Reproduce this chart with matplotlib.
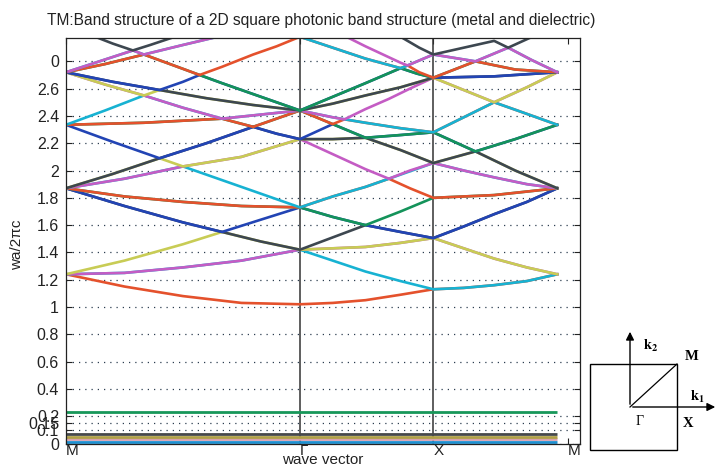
import matplotlib.pyplot as plt
from matplotlib.patches import Rectangle

plt.rcParams['font.family'] = ['Liberation Sans', 'DejaVu Sans']
plt.rcParams['mathtext.fontset'] = 'stix'

# colours (scanned MATLAB colour order)
red = '#e4512c'
cyan = '#17b2d2'
magenta = '#c45cc4'
yellow = '#c8cc55'
gray = '#3d4750'
blue = '#2244b4'
green = '#14935a'
color_order = [blue, green, red, cyan, magenta, yellow, gray]

# path: M (0) -> Gamma (1) -> X (1.57) -> M (2.1)
xtick_vals = [0, 1.0, 1.57, 2.145]
xtick_labels = ['M', 'Γ', 'X', 'M']
ytick_vals = [0, 0.1, 0.15, 0.2, 0.4, 0.6, 0.8, 1, 1.2, 1.4, 1.6, 1.8, 2, 2.2, 2.4, 2.6, 2.8]
ytick_labels = ['0', '0.1', '0.15', '0.2', '0.4', '0.6', '0.8', '1', '1.2', '1.4', '1.6',
                '1.8', '2', '2.2', '2.4', '2.6', '0']

# sorted bands (wa/2pi c) read along the path
b01_k = [0, 0.25, 0.5, 0.75, 1.0, 1.14, 1.28, 1.43, 1.57, 1.70, 1.83, 1.97, 2.10]
b01_w = [1.24, 1.15, 1.08, 1.03, 1.02, 1.03, 1.05, 1.09, 1.13, 1.14, 1.16, 1.19, 1.24]
b02_k = [0, 0.25, 0.5, 0.75, 1.0, 1.14, 1.28, 1.43, 1.57, 1.70, 1.83, 1.97, 2.10]
b02_w = [1.24, 1.25, 1.29, 1.34, 1.42, 1.34, 1.26, 1.19, 1.13, 1.14, 1.16, 1.19, 1.24]
b03_k = [0, 0.25, 0.5, 0.75, 1.0, 1.14, 1.28, 1.43, 1.57, 1.70, 1.83, 1.97, 2.10]
b03_w = [1.24, 1.25, 1.29, 1.34, 1.42, 1.43, 1.44, 1.47, 1.505, 1.43, 1.355, 1.29, 1.24]
b04_k = [0, 0.25, 0.5, 0.667, 0.833, 1.0, 1.14, 1.28, 1.43, 1.57, 1.70, 1.83, 1.97, 2.10]
b04_w = [1.24, 1.34, 1.46, 1.55, 1.48, 1.42, 1.43, 1.44, 1.47, 1.505, 1.43, 1.355, 1.29, 1.24]
b05_k = [0, 0.25, 0.5, 0.667, 0.833, 1.0, 1.14, 1.28, 1.43, 1.57, 1.70, 1.83, 1.97, 2.10]
b05_w = [1.87, 1.74, 1.62, 1.55, 1.48, 1.42, 1.51, 1.60, 1.55, 1.505, 1.59, 1.68, 1.77, 1.87]
b06_k = [0, 0.25, 0.5, 0.667, 0.833, 1.0, 1.14, 1.28, 1.43, 1.57, 1.70, 1.83, 1.97, 2.10]
b06_w = [1.87, 1.74, 1.62, 1.55, 1.64, 1.73, 1.66, 1.60, 1.55, 1.505, 1.59, 1.68, 1.77, 1.87]
b07_k = [0, 0.25, 0.5, 0.75, 1.0, 1.14, 1.28, 1.43, 1.57, 1.83, 2.10]
b07_w = [1.87, 1.81, 1.77, 1.74, 1.73, 1.66, 1.60, 1.70, 1.80, 1.82, 1.87]
b08_k = [0, 0.25, 0.5, 0.75, 1.0, 1.14, 1.28, 1.38, 1.47, 1.57, 1.83, 2.10]
b08_w = [1.87, 1.81, 1.77, 1.74, 1.73, 1.81, 1.88, 1.94, 1.87, 1.80, 1.82, 1.87]
b09_k = [0, 0.25, 0.5, 0.75, 1.0, 1.14, 1.28, 1.43, 1.57, 1.70, 1.83, 1.97, 2.10]
b09_w = [1.87, 1.94, 2.03, 1.88, 1.73, 1.81, 1.88, 1.97, 2.055, 2.00, 1.95, 1.90, 1.87]
b10_k = [0, 0.25, 0.5, 0.75, 1.0, 1.14, 1.28, 1.38, 1.47, 1.57, 1.70, 1.83, 1.97, 2.10]
b10_w = [1.87, 1.94, 2.03, 2.10, 2.23, 2.12, 2.01, 1.94, 2.00, 2.055, 2.00, 1.95, 1.90, 1.87]
b11_k = [0, 0.2, 0.4, 0.5, 0.75, 1.0, 1.14, 1.28, 1.43, 1.57, 1.75, 1.92, 2.10]
b11_w = [1.87, 1.975, 2.09, 2.03, 2.10, 2.23, 2.23, 2.24, 2.15, 2.055, 2.14, 2.00, 1.87]
b12_k = [0, 0.2, 0.4, 0.6, 0.8, 0.9, 1.0, 1.14, 1.28, 1.43, 1.57, 1.75, 1.92, 2.10]
b12_w = [1.87, 1.975, 2.09, 2.20, 2.32, 2.27, 2.23, 2.23, 2.24, 2.15, 2.055, 2.14, 2.00, 1.87]
b13_k = [0, 0.2, 0.4, 0.6, 0.8, 0.9, 1.0, 1.14, 1.28, 1.43, 1.57, 1.75, 1.92, 2.10]
b13_w = [2.335, 2.21, 2.09, 2.20, 2.32, 2.27, 2.23, 2.34, 2.24, 2.26, 2.28, 2.14, 2.23, 2.335]
b14_k = [0, 0.333, 0.667, 0.8, 0.9, 1.0, 1.14, 1.28, 1.43, 1.57, 1.75, 1.92, 2.10]
b14_w = [2.335, 2.35, 2.38, 2.32, 2.38, 2.44, 2.34, 2.24, 2.26, 2.28, 2.14, 2.23, 2.335]
b15_k = [0, 0.333, 0.667, 0.8, 0.9, 1.0, 1.14, 1.19, 1.28, 1.43, 1.57, 1.70, 1.83, 1.97, 2.10]
b15_w = [2.335, 2.35, 2.38, 2.32, 2.38, 2.44, 2.34, 2.375, 2.35, 2.31, 2.28, 2.39, 2.50, 2.415, 2.335]
b16_k = [0, 0.167, 0.333, 0.5, 0.667, 0.833, 1.0, 1.14, 1.28, 1.43, 1.57, 1.70, 1.83, 1.97, 2.10]
b16_w = [2.335, 2.44, 2.55, 2.46, 2.38, 2.41, 2.44, 2.39, 2.35, 2.31, 2.28, 2.39, 2.50, 2.415, 2.335]
b17_k = [0, 0.167, 0.333, 0.5, 0.667, 0.833, 1.0, 1.14, 1.19, 1.28, 1.38, 1.47, 1.57, 1.70, 1.83, 1.97, 2.10]
b17_w = [2.72, 2.63, 2.55, 2.46, 2.38, 2.41, 2.44, 2.39, 2.375, 2.45, 2.525, 2.60, 2.68, 2.59, 2.50, 2.61, 2.72]
b18_k = [0, 0.167, 0.333, 0.4, 0.6, 0.8, 1.0, 1.14, 1.28, 1.43, 1.57, 1.70, 1.83, 1.97, 2.10]
b18_w = [2.72, 2.63, 2.55, 2.59, 2.53, 2.48, 2.44, 2.49, 2.55, 2.61, 2.68, 2.59, 2.50, 2.61, 2.72]
b19_k = [0, 0.2, 0.4, 0.6, 0.8, 1.0, 1.14, 1.28, 1.43, 1.57, 1.83, 2.10]
b19_w = [2.72, 2.65, 2.59, 2.53, 2.48, 2.44, 2.49, 2.55, 2.61, 2.68, 2.69, 2.72]
b20_k = [0, 0.2, 0.4, 0.5, 0.571, 0.667, 0.8, 1.0, 1.14, 1.28, 1.43, 1.50, 1.57, 1.83, 2.10]
b20_w = [2.72, 2.65, 2.59, 2.65, 2.70, 2.64, 2.56, 2.44, 2.54, 2.64, 2.75, 2.71, 2.68, 2.69, 2.72]
b21_k = [0, 0.167, 0.333, 0.5, 0.571, 0.667, 0.8, 1.0, 1.14, 1.28, 1.43, 1.50, 1.57, 1.75, 1.92, 2.10]
b21_w = [2.72, 2.78, 2.85, 2.745, 2.70, 2.64, 2.56, 2.44, 2.54, 2.64, 2.75, 2.71, 2.68, 2.80, 2.74, 2.72]
b22_k = [0, 0.167, 0.333, 0.5, 0.571, 0.667, 0.8, 0.9, 1.0, 1.14, 1.28, 1.43, 1.46, 1.51, 1.57, 1.75, 1.92, 2.10]
b22_w = [2.72, 2.78, 2.85, 2.745, 2.70, 2.76, 2.85, 2.91, 2.98, 2.90, 2.82, 2.75, 2.77, 2.72, 2.68, 2.80, 2.74, 2.72]
b23_k = [0, 0.143, 0.286, 0.333, 0.5, 0.623, 0.7, 1.0, 1.14, 1.28, 1.43, 1.46, 1.57, 1.75, 1.89, 1.99, 2.10]
b23_w = [2.72, 2.80, 2.88, 2.85, 2.92, 2.97, 3.00, 2.98, 2.90, 2.82, 2.75, 2.77, 2.85, 2.80, 2.90, 2.81, 2.72]
b24_k = [0, 0.143, 0.286, 0.333, 0.5, 0.623, 0.7, 1.11, 1.21, 1.28, 1.43, 1.46, 1.57, 1.75, 1.89, 1.99, 2.10]
b24_w = [2.72, 2.80, 2.88, 2.85, 2.92, 2.97, 3.00, 3.05, 2.97, 2.91, 2.79, 2.77, 2.85, 2.80, 2.90, 2.81, 2.72]
b26_k = [0.08, 0.2, 0.286, 0.36, 0.5, 1.34, 1.51, 1.57, 1.70, 1.83, 1.89, 1.98, 2.05]
b26_w = [3.01, 2.93, 2.88, 2.92, 3.00, 3.07, 2.90, 2.85, 2.90, 2.95, 2.90, 2.97, 3.02]

# flat (metal) bands near zero
flat_w = [0.013, 0.03, 0.048, 0.068, 0.232]
flat_colors = ['#1c8fd0', '#d7a0b0', '#b0a048', '#45484a', '#17975a']

bands = [(1, b01_k, b01_w), (2, b02_k, b02_w), (3, b03_k, b03_w), (4, b04_k, b04_w),
         (5, b05_k, b05_w), (6, b06_k, b06_w), (7, b07_k, b07_w), (8, b08_k, b08_w),
         (9, b09_k, b09_w), (10, b10_k, b10_w), (11, b11_k, b11_w), (12, b12_k, b12_w),
         (13, b13_k, b13_w), (14, b14_k, b14_w), (15, b15_k, b15_w), (16, b16_k, b16_w),
         (17, b17_k, b17_w), (18, b18_k, b18_w), (19, b19_k, b19_w), (20, b20_k, b20_w),
         (21, b21_k, b21_w), (22, b22_k, b22_w), (23, b23_k, b23_w), (24, b24_k, b24_w),
         (26, b26_k, b26_w)]

fig = plt.figure(figsize=(7.18, 4.65), dpi=100)
ax = fig.add_axes([66 / 718, 1 - 443.5 / 465, (580 - 66) / 718, (443.5 - 38) / 465])

for w, c in zip(flat_w, flat_colors):
    ax.plot([0, 2.1], [w, w], color=c, lw=2.0, solid_capstyle='butt')

for n, k, w in bands:
    ax.plot(k, w, color=color_order[(n + 1) % 7], lw=1.9, solid_joinstyle='round')

for xv in xtick_vals[1:3]:
    ax.axvline(xv, color='#333333', lw=1.1, zorder=1)

ax.set_xlim(0, 2.197)
ax.set_ylim(0, 2.971)
ax.set_yticks(ytick_vals)
ax.set_yticklabels(ytick_labels, fontsize=11.5)
ax.set_xticks(xtick_vals)
ax.set_xticklabels(xtick_labels, fontsize=11, ha='left')
ax.yaxis.grid(True, linestyle=(0, (1, 4)), color='#2c3e50', lw=0.9)
ax.set_axisbelow(True)
ax.tick_params(axis='y', direction='in', length=4, width=0.8, right=True, pad=5, colors='#222222')
ax.tick_params(axis='x', direction='in', length=4, width=0.8, top=True, pad=0, colors='#222222')
for s in ax.spines.values():
    s.set_color('#222222')
    s.set_linewidth(0.9)

fig.text(321 / 718, 1 - 21 / 465,
         'TM:Band structure of a 2D square photonic band structure (metal and dielectric)',
         ha='center', va='center', fontsize=11.2, color='#222222')
fig.text(323 / 718, 1 - 460 / 465, 'wave vector', ha='center', va='center', fontsize=11,
         color='#222222')
fig.text(17 / 718, 1 - 245 / 465, 'wa/2πc', rotation=90, ha='center', va='center',
         fontsize=11, color='#222222')

# Brillouin zone sketch, drawn in pixel coordinates
ins = fig.add_axes([584 / 718, 0, (718 - 584) / 718, (465 - 320) / 465])
ins.set_xlim(584, 718)
ins.set_ylim(465, 320)
ins.axis('off')
ins.add_patch(Rectangle((590, 364), 87, 86, fill=False, lw=1.0, color='k'))
ins.plot([630, 677], [407, 364], color='k', lw=0.9)
ins.annotate('', xy=(630, 329), xytext=(630, 407),
             arrowprops=dict(arrowstyle='-|>', color='k', lw=1.0, mutation_scale=12))
ins.annotate('', xy=(718, 407), xytext=(630, 407),
             arrowprops=dict(arrowstyle='-|>', color='k', lw=1.0, mutation_scale=12))
ins.text(651, 346, r'$\mathbf{k}_\mathbf{2}$', ha='center', va='center', fontsize=10.5)
ins.text(692, 357, 'M', ha='center', va='center', fontsize=10.5, fontweight='bold',
         family='Liberation Serif')
ins.text(697, 397, r'$\mathbf{k}_\mathbf{1}$', ha='center', va='center', fontsize=10.5)
ins.text(640, 421, 'Γ', ha='center', va='center', fontsize=10, family='Liberation Serif')
ins.text(688, 423, 'X', ha='center', va='center', fontsize=10.5, fontweight='bold',
         family='Liberation Serif')

fig.savefig('out.png', dpi=100)
